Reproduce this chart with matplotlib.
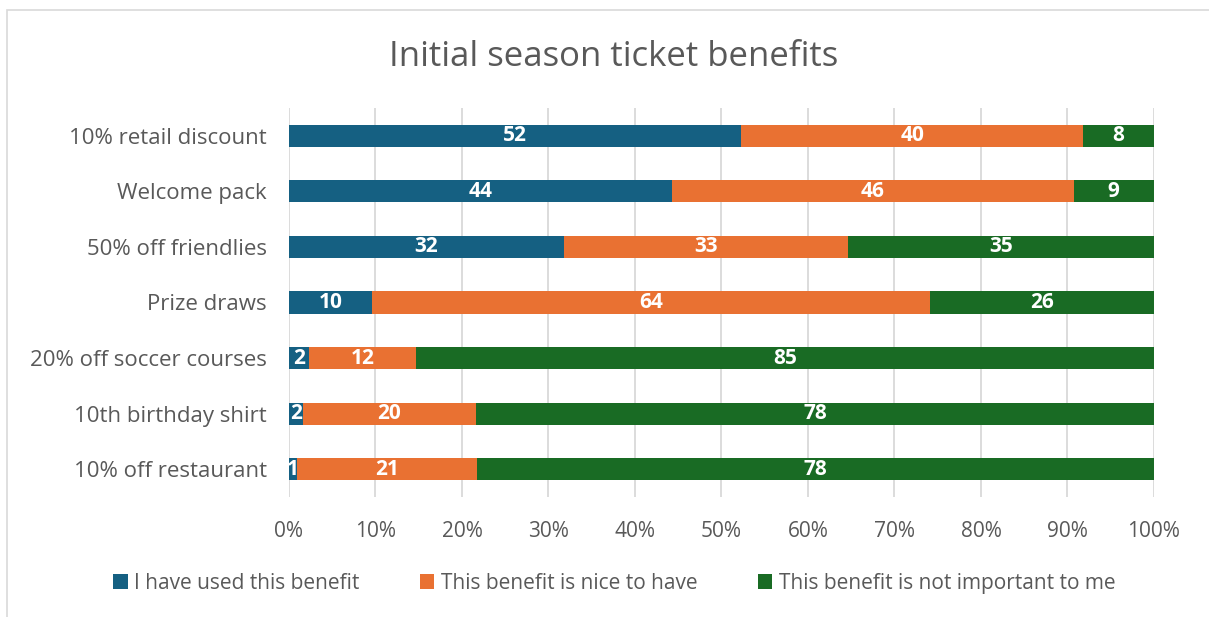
import numpy as np
import matplotlib
matplotlib.use('Agg')
import matplotlib.pyplot as plt
from matplotlib.patches import Rectangle

plt.rcParams['font.family'] = ['Open Sans', 'DejaVu Sans']

# data (percent of respondents)
categories = ['10% retail discount', 'Welcome pack', '50% off friendlies', 'Prize draws',
              '20% off soccer courses', '10th birthday shirt', '10% off restaurant']
used = [52.3, 44.3, 31.8, 9.6, 2.3, 1.6, 0.9]
nice = [39.5, 46.4, 32.8, 64.5, 12.4, 20.0, 20.8]
not_important = [8.2, 9.3, 35.4, 25.9, 85.3, 78.4, 78.3]
series_names = ['I have used this benefit', 'This benefit is nice to have',
                'This benefit is not important to me']
colors = ['#156082', '#E97132', '#196B24']

fig = plt.figure(figsize=(12.09, 6.17), dpi=100)
ax = fig.add_axes([0.239, 0.1945, 0.7155, 0.6305])

# light outer frame like the chart area border
fig.patches.append(Rectangle((7 / 1209, -0.1), 1.1, 1 - 10 / 617 + 0.1, transform=fig.transFigure,
                             fill=False, edgecolor='#D9D9D9', linewidth=1.2))

y = np.arange(len(categories))[::-1]
left = np.zeros(len(categories))
for vals, name, c in zip([used, nice, not_important], series_names, colors):
    vals = np.array(vals)
    bars = ax.barh(y, vals, left=left, height=0.4, color=c, label=name, zorder=3)
    for b, v, l in zip(bars, vals, left):
        ax.text(l + v / 2, b.get_y() + b.get_height() / 2, '%.0f' % v, ha='center', va='center',
                color='white', fontsize=15, fontweight='bold', zorder=4)
    left += vals

ax.set_xlim(0, 100)
ax.set_ylim(-0.5, len(categories) - 0.5)
ax.set_xticks(np.arange(0, 101, 10))
ax.set_xticklabels(['%d%%' % t for t in range(0, 101, 10)])
ax.set_yticks(y)
ax.set_yticklabels(categories)
ax.tick_params(axis='both', length=0, labelsize=15, labelcolor='#595959')
ax.tick_params(axis='x', pad=17)
ax.tick_params(axis='y', pad=16, labelsize=16)
ax.grid(axis='x', color='#D9D9D9', linewidth=1.3, zorder=0)
for s in ax.spines.values():
    s.set_visible(False)

fig.text(0.5074, 0.908, 'Initial season ticket benefits', ha='center', va='center',
         fontsize=25, color='#595959')

leg = fig.legend(loc='center', bbox_to_anchor=(0.508, 0.055), ncol=3, frameon=False,
                 fontsize=15, handlelength=0.7, handleheight=0.7, handletextpad=0.3,
                 columnspacing=2.9)
for t in leg.get_texts():
    t.set_color('#595959')

fig.savefig('out.png', dpi=100)
